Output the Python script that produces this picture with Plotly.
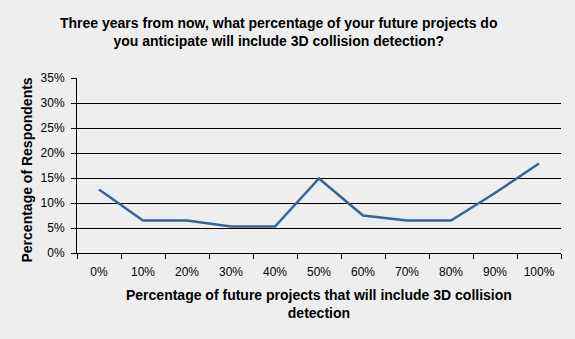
import plotly.graph_objects as go

# Survey responses: share of respondents per anticipated project share
categories = ["0%", "10%", "20%", "30%", "40%", "50%", "60%", "70%", "80%", "90%", "100%"]
respondents = [0.127, 0.065, 0.065, 0.053, 0.053, 0.149, 0.075, 0.065, 0.065, 0.120, 0.179]
y_ticks = [0, 0.05, 0.10, 0.15, 0.20, 0.25, 0.30, 0.35]

title_text = ("Three years from now, what percentage of your future projects do<br>"
              "you anticipate will include 3D collision detection?")
x_title = "Percentage of future projects that will include 3D collision<br>detection"
y_title = "Percentage of Respondents"

bg = "#EEEEEE"
font_family = "Liberation Sans, Arial, sans-serif"
bold = dict(family=font_family, size=14, color="#000000", weight="bold")

fig = go.Figure(
    go.Scatter(
        x=categories,
        y=respondents,
        mode="lines",
        line=dict(color="#336699", width=2.5),
        hoverinfo="x+y",
    )
)

fig.update_layout(
    width=575,
    height=339,
    paper_bgcolor=bg,
    plot_bgcolor=bg,
    margin=dict(l=77, r=14, t=78, b=86, autoexpand=False),
    showlegend=False,
    font=dict(family=font_family, size=12, color="#000000"),
    annotations=[
        dict(
            text=title_text,
            xref="paper", yref="paper",
            x=0.417, y=1.0, yshift=65,
            xanchor="center", yanchor="top",
            showarrow=False,
            font=bold,
        ),
        dict(
            text=x_title,
            xref="paper", yref="paper",
            x=0.5, y=0, yshift=-32,
            xanchor="center", yanchor="top",
            showarrow=False,
            font=bold,
        ),
        dict(
            text=y_title,
            xref="paper", yref="paper",
            x=0, xshift=-51, y=0.5, yshift=-5,
            xanchor="center", yanchor="middle",
            textangle=-90,
            showarrow=False,
            font=bold,
        ),
    ],
)

fig.update_xaxes(
    type="category",
    range=[-0.5, len(categories) - 0.5],
    tickson="boundaries",
    showgrid=False,
    showline=True,
    linecolor="#000000",
    linewidth=1,
    ticks="outside",
    ticklen=5,
    tickcolor="#000000",
    ticklabelstandoff=8,
    tickfont=dict(size=12),
    zeroline=False,
    fixedrange=True,
)

fig.update_yaxes(
    range=[0, 0.35],
    tickvals=y_ticks,
    tickformat=".0%",
    showgrid=True,
    gridcolor="#000000",
    gridwidth=1,
    showline=True,
    linecolor="#000000",
    linewidth=1,
    ticks="outside",
    ticklen=5,
    tickcolor="#000000",
    ticklabelstandoff=4,
    tickfont=dict(size=12),
    zeroline=False,
    fixedrange=True,
)

fig.write_html("out.html")
